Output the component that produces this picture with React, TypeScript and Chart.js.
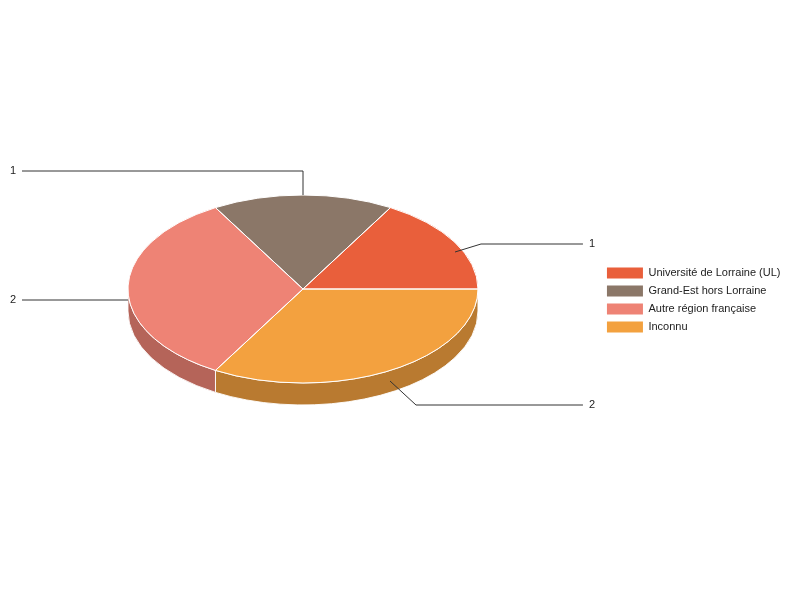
import React, { useEffect, useRef } from 'react';
import { Chart, registerables } from 'chart.js';

Chart.register(...registerables);

// Data (legend order)
const categories = [
  'Université de Lorraine (UL)',
  'Grand-Est hors Lorraine',
  'Autre région française',
  'Inconnu',
];
const values = [1, 1, 2, 2];
const colors = ['#e95f3b', '#8b7768', '#ee8375', '#f3a13f'];

// 3D look
const TILT = 0.537;
const DEPTH = 22;
const SHADE = 0.76;

function darken(hex: string, f: number): string {
  const h = hex.replace('#', '');
  const r = Math.round(parseInt(h.slice(0, 2), 16) * f);
  const g = Math.round(parseInt(h.slice(2, 4), 16) * f);
  const b = Math.round(parseInt(h.slice(4, 6), 16) * f);
  return `rgb(${r},${g},${b})`;
}

function geometry(chart: any) {
  const meta = chart.getDatasetMeta(0);
  const arcs = meta.data as any[];
  if (!arcs.length) return null;
  const p = arcs[0].getProps(['x', 'y', 'outerRadius'], true);
  const rx = p.outerRadius;
  const ry = p.outerRadius * TILT;
  const cy = p.y - DEPTH / 2;
  return { arcs, x: p.x, y: p.y, rx, ry, cy };
}

const pie3d = {
  id: 'pie3d',
  beforeDatasetsDraw(chart: any) {
    const g = geometry(chart);
    const ctx = chart.ctx;
    ctx.save();
    if (!g) return;
    const bg = chart.data.datasets[0].backgroundColor as string[];
    // side walls (front half only)
    g.arcs.forEach((arc: any, i: number) => {
      const s = arc.startAngle;
      const e = arc.endAngle;
      for (const k of [-2 * Math.PI, 0, 2 * Math.PI]) {
        const a = Math.max(s, k);
        const b = Math.min(e, k + Math.PI);
        if (b > a) {
          ctx.beginPath();
          ctx.ellipse(g.x, g.cy, g.rx, g.ry, 0, a, b, false);
          ctx.ellipse(g.x, g.cy + DEPTH, g.rx, g.ry, 0, b, a, true);
          ctx.closePath();
          ctx.fillStyle = darken(bg[i], SHADE);
          ctx.fill();
          ctx.strokeStyle = 'rgba(255,255,255,0.9)';
          ctx.lineWidth = 1;
          ctx.stroke();
        }
      }
    });
    // squash the top face
    ctx.translate(g.x, g.cy);
    ctx.scale(1, TILT);
    ctx.translate(-g.x, -g.y);
  },
  afterDatasetsDraw(chart: any) {
    const ctx = chart.ctx;
    ctx.restore();
    const g = geometry(chart);
    if (!g) return;
    ctx.save();
    ctx.strokeStyle = '#ffffff';
    ctx.lineWidth = 1;
    g.arcs.forEach((arc: any) => {
      ctx.beginPath();
      ctx.moveTo(g.x, g.cy);
      ctx.ellipse(g.x, g.cy, g.rx, g.ry, 0, arc.startAngle, arc.endAngle, false);
      ctx.closePath();
      ctx.stroke();
    });
    ctx.restore();
  },
  afterDraw(chart: any) {
    const g = geometry(chart);
    if (!g) return;
    const ctx = chart.ctx;
    const area = chart.chartArea;
    const data = chart.data.datasets[0].data as number[];
    ctx.save();
    ctx.font = '11px Arial';
    ctx.textBaseline = 'middle';
    g.arcs.forEach((arc: any, i: number) => {
      const mid = (arc.startAngle + arc.endAngle) / 2;
      const c = Math.cos(mid);
      const s = Math.sin(mid);
      const ax = g.x + g.rx * c;
      const ay = g.cy + g.ry * s + (s >= 0 ? DEPTH / 2 : (DEPTH / 2) * Math.abs(c));
      const left = c < 0.01;
      const ex = ax + (Math.abs(c) > 0.1 ? Math.sign(c) * 26 : 0);
      const ey = ay + Math.sign(s) * Math.min(24, 32 * s * s);
      const end = left ? area.left + 16 : area.right - 17;
      ctx.beginPath();
      ctx.moveTo(Math.round(ax), Math.round(ay));
      ctx.lineTo(Math.round(ex), Math.round(ey));
      ctx.lineTo(end, Math.round(ey));
      ctx.strokeStyle = '#333333';
      ctx.lineWidth = 1;
      ctx.stroke();
      ctx.fillStyle = '#222222';
      ctx.textAlign = left ? 'right' : 'left';
      ctx.fillText(String(data[i]), left ? end - 6 : end + 6, Math.round(ey));
    });
    ctx.restore();
  },
};

export default function App() {
  const ref = useRef<HTMLCanvasElement | null>(null);

  useEffect(() => {
    document.body.style.margin = '0';
    if (!ref.current) return;
    // Google-style 3D pie runs counter-clockwise from 3 o'clock: feed Chart.js the reverse order
    const labels = [...categories].reverse();
    const data = [...values].reverse();
    const bg = [...colors].reverse();
    const chart = new Chart(ref.current, {
      type: 'pie',
      data: {
        labels,
        datasets: [
          {
            data,
            backgroundColor: bg,
            borderWidth: 0,
          },
        ],
      },
      options: {
        animation: false,
        responsive: false,
        events: [],
        rotation: 90,
        radius: 175,
        layout: { padding: { left: 6, right: 9.5, top: 0, bottom: 0 } },
        plugins: {
          legend: {
            position: 'right',
            reverse: true,
            labels: {
              boxWidth: 36,
              boxHeight: 11,
              padding: 7,
              color: '#222222',
              font: { family: 'Arial', size: 11 },
            },
          },
          tooltip: { enabled: false },
        },
      },
      plugins: [pie3d],
    });
    return () => chart.destroy();
  }, []);

  return (
    <div style={{ width: 800, height: 600 }}>
      <canvas ref={ref} width={800} height={600} style={{ display: 'block' }} />
    </div>
  );
}
